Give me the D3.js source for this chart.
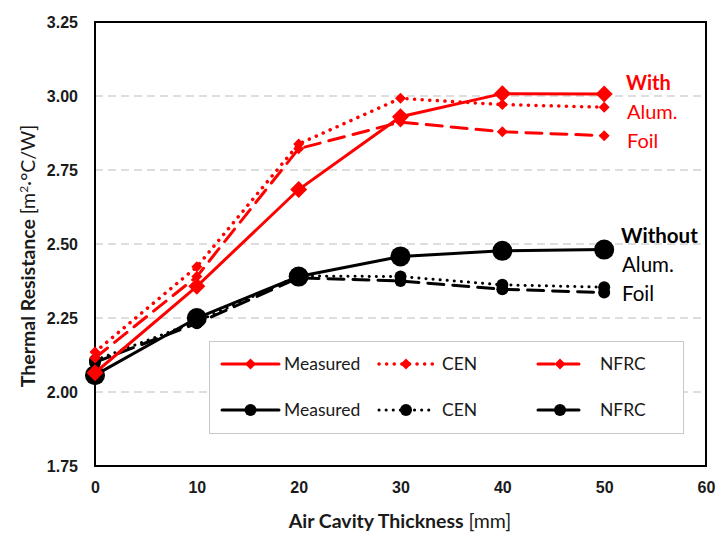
<!DOCTYPE html>
<html>
<head>
<meta charset="utf-8">
<script src="https://cdn.jsdelivr.net/npm/d3@7"></script>
<style>
  body { margin: 0; background: #fff; }
  svg { font-family: Lato, "Open Sans", sans-serif; }
</style>
</head>
<body>
<svg id="chart" width="718" height="533"></svg>
<script>
// air cavity thickness [mm]
var thickness = [0, 10, 20, 30, 40, 50];

// with aluminium foil
var withMeasured = [2.065, 2.357, 2.684, 2.93, 3.008, 3.007];
var withCEN      = [2.135, 2.423, 2.838, 2.992, 2.971, 2.962];
var withNFRC     = [2.115, 2.39, 2.822, 2.912, 2.879, 2.866];

// without aluminium foil
var withoutMeasured = [2.057, 2.25, 2.39, 2.458, 2.477, 2.481];
var withoutCEN      = [2.107, 2.238, 2.392, 2.39, 2.362, 2.354];
var withoutNFRC     = [2.1, 2.232, 2.386, 2.375, 2.347, 2.336];

var yTicks = [1.75, 2.00, 2.25, 2.50, 2.75, 3.00, 3.25];
var xTicks = [0, 10, 20, 30, 40, 50, 60];

var svg = d3.select("#chart");
var margin = {top: 22, right: 12, bottom: 67, left: 95};
var width = 718 - margin.left - margin.right,
    height = 533 - margin.top - margin.bottom;

var x = d3.scaleLinear().domain([0, 60]).range([0, width]);
var y = d3.scaleLinear().domain([1.75, 3.25]).range([height, 0]);

var g = svg.append("g")
    .attr("transform", "translate(" + margin.left + "," + margin.top + ")");

// gridlines
g.append("g")
    .selectAll("line")
    .data(yTicks.filter(function(d) { return d > 1.75 && d < 3.25; }))
    .enter().append("line")
    .attr("x1", 0).attr("x2", width)
    .attr("y1", function(d) { return y(d); })
    .attr("y2", function(d) { return y(d); })
    .attr("stroke", "#bdbdbd")
    .attr("stroke-width", 1.2)
    .attr("stroke-dasharray", "8,5");

// axes (labels only)
var yAxis = g.append("g")
    .call(d3.axisLeft(y).tickValues(yTicks).tickFormat(d3.format(".2f")).tickSize(0).tickPadding(17));
var xAxis = g.append("g")
    .attr("transform", "translate(0," + height + ")")
    .call(d3.axisBottom(x).tickValues(xTicks).tickSize(0).tickPadding(16));
[yAxis, xAxis].forEach(function(a) {
    a.select(".domain").remove();
    a.selectAll("text")
        .style("font-size", "16px")
        .style("font-weight", "bold")
        .attr("fill", "#1a1a1a");
});

// plot frame
g.append("rect")
    .attr("x", 0).attr("y", 0)
    .attr("width", width).attr("height", height)
    .attr("fill", "none")
    .attr("stroke", "#000")
    .attr("stroke-width", 2);

// axis titles
svg.append("text")
    .attr("x", 400)
    .attr("y", 528)
    .attr("text-anchor", "middle")
    .style("font-size", "19.5px")
    .attr("fill", "#1a1a1a")
    .call(function(t) {
        t.append("tspan").style("font-weight", "bold").text("Air Cavity Thickness ");
        t.append("tspan").text("[mm]");
    });

svg.append("text")
    .attr("transform", "translate(35,256)rotate(-90)")
    .attr("text-anchor", "middle")
    .style("font-size", "19.5px")
    .attr("fill", "#1a1a1a")
    .call(function(t) {
        t.append("tspan").style("font-weight", "bold").text("Thermal Resistance ");
        t.append("tspan").text("[m");
        t.append("tspan").attr("dy", -7).style("font-size", "12px").text("2");
        t.append("tspan").attr("dy", 7).text("\u00b7\u00b0C/W]");
    });

var series = [
    {values: withoutNFRC, color: "#000", dash: "16,9", shape: "circle", size: 12, width: 3},
    {values: withoutCEN, color: "#000", dash: "0.1,7", shape: "circle", size: 12, width: 3},
    {values: withoutMeasured, color: "#000", dash: null, shape: "circle", size: 20, width: 3},
    {values: withNFRC, color: "#ff0000", dash: "16,9", shape: "diamond", size: 11, width: 3},
    {values: withCEN, color: "#ff0000", dash: "0.1,7.5", shape: "diamond", size: 11, width: 3.5},
    {values: withMeasured, color: "#ff0000", dash: null, shape: "diamond", size: 17, width: 3}
];

var line = d3.line()
    .x(function(d) { return x(d[0]); })
    .y(function(d) { return y(d[1]); });

function markerPath(shape, size) {
    if (shape === "circle") {
        return d3.symbol().type(d3.symbolCircle).size(Math.PI * size * size / 4)();
    }
    var r = size / 2;
    return "M0," + (-r) + "L" + r + ",0L0," + r + "L" + (-r) + ",0Z";
}

series.forEach(function(s) {
    var pts = thickness.map(function(t, i) { return [t, s.values[i]]; });
    g.append("path")
        .datum(pts)
        .attr("d", line)
        .attr("fill", "none")
        .attr("stroke", s.color)
        .attr("stroke-width", s.width)
        .attr("stroke-linecap", "round")
        .attr("stroke-dasharray", s.dash);
    g.selectAll(null)
        .data(pts)
        .enter().append("path")
        .attr("transform", function(d) { return "translate(" + x(d[0]) + "," + y(d[1]) + ")"; })
        .attr("d", markerPath(s.shape, s.size))
        .attr("fill", s.color);
});

// annotations
var notes = [
    {lines: ["With", "Alum.", "Foil"], color: "#ff0000", x: 626, y: 90, size: 20},
    {lines: ["Without", "Alum.", "Foil"], color: "#000", x: 621, y: 243, size: 20.5}
];
notes.forEach(function(n) {
    n.lines.forEach(function(l, i) {
        svg.append("text")
            .attr("x", n.x + (i === 0 ? 0 : 1))
            .attr("y", n.y + i * 29)
            .style("font-size", n.size + "px")
            .style("font-weight", i === 0 ? "bold" : "normal")
            .attr("fill", n.color)
            .text(l);
    });
});

// legend
var legend = svg.append("g");
legend.append("rect")
    .attr("x", 209.5).attr("y", 341.5)
    .attr("width", 474).attr("height", 92)
    .attr("fill", "#fff")
    .attr("stroke", "#c8c8c8")
    .attr("stroke-width", 1);

var legendItems = [
    {label: "Measured", s: series[5], col: 0, row: 0},
    {label: "CEN", s: series[4], col: 1, row: 0},
    {label: "NFRC", s: series[3], col: 2, row: 0},
    {label: "Measured", s: series[2], col: 0, row: 1},
    {label: "CEN", s: series[1], col: 1, row: 1},
    {label: "NFRC", s: series[0], col: 2, row: 1}
];
var colX = [222, 379, 538];
var colW = [57, 54, 44];
var textX = [284, 442, 600];
legendItems.forEach(function(it) {
    var ly = 364 + it.row * 46;
    var x0 = colX[it.col], x1 = x0 + colW[it.col];
    var s = it.s;
    legend.append("line")
        .attr("x1", x0).attr("x2", x1)
        .attr("y1", ly).attr("y2", ly)
        .attr("stroke", s.color)
        .attr("stroke-width", s.width)
        .attr("stroke-linecap", "round")
        .attr("stroke-dasharray", s.dash);
    legend.append("path")
        .attr("transform", "translate(" + ((x0 + x1) / 2) + "," + ly + ")")
        .attr("d", markerPath(s.shape, s.shape === "circle" ? 12 : 11))
        .attr("fill", s.color);
    legend.append("text")
        .attr("x", textX[it.col])
        .attr("y", ly + 6)
        .style("font-size", "17.5px")
        .attr("fill", "#1a1a1a")
        .text(it.label);
});
</script>
</body>
</html>
